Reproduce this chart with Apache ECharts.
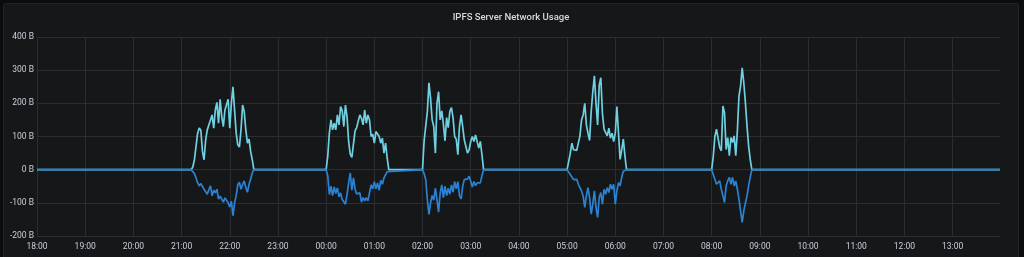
<!DOCTYPE html>
<html><head><meta charset="utf-8">
<script src="https://cdn.jsdelivr.net/npm/echarts@6/dist/echarts.min.js"></script>
<style>html,body{margin:0;padding:0;background:#0b0c0e;}#c{width:1024px;height:257px;}</style>
</head><body><div id="c"></div><script>
const chartTitle = 'IPFS Server Network Usage';
const axisStart = '18:00';
const axisSpanMinutes = 1199;
const yMin = -200, yMax = 400, yStep = 100;
const unitSuffix = ' B';
const stepMinutes = 2;
const burstStarts = ['21:12', '00:00', '02:00', '05:00', '08:00'];

const upper1 = [0,8,30,70,110,126,118,55,30,90,120,125,150,165,125,180,203,140,212,160,130,180,175,212,125,200,250,180,110,75,68,120,195,175,120,80,92,55,30,0];
const lower1 = [0,-5,-12,-25,-40,-49,-42,-38,-59,-60,-74,-60,-49,-79,-62,-70,-59,-89,-80,-74,-98,-85,-79,-100,-113,-95,-139,-100,-79,-45,-38,-59,-45,-34,-55,-68,-44,-29,-10,0];
const upper2 = [0,41,110,150,120,140,120,165,135,190,178,130,195,160,85,47,37,77,117,127,147,165,155,135,180,140,165,150,100,107,80,115,120,100,80,95,50,80,35,0];
const lower2 = [0,-18,-75,-50,-78,-52,-72,-55,-82,-70,-90,-97,-104,-75,-40,-10,-62,-25,-59,-73,-79,-70,-98,-84,-94,-84,-94,-70,-46,-58,-36,-58,-40,-62,-32,-44,-25,-20,-6,0];
const upper3 = [0,87,82,175,262,215,150,130,50,200,235,150,177,137,87,157,127,175,187,157,100,92,45,130,165,130,90,70,50,60,85,100,85,105,102,65,85,45,0];
const lower3 = [0,-12,-30,-90,-135,-100,-78,-92,-56,-90,-128,-70,-46,-84,-50,-78,-56,-74,-46,-68,-36,-58,-36,-78,-88,-50,-30,-24,-28,-20,-35,-52,-36,-48,-40,-44,-40,-18,0];
const upper4 = [0,25,50,80,60,58,58,52,102,150,165,200,135,110,88,175,235,283,200,135,255,277,170,122,112,102,125,95,110,85,110,190,110,31,60,92,42,0];
const lower4 = [0,-8,-14,-22,-30,-34,-29,-44,-39,-64,-80,-114,-79,-54,-84,-134,-104,-64,-114,-144,-84,-69,-104,-59,-74,-54,-69,-44,-59,-44,-104,-64,-39,-49,-23,-5,-2,0];
const upper5 = [0,40,100,122,117,67,57,192,172,61,97,42,97,82,102,42,117,222,252,307,262,202,132,72,31,0];
const lower5 = [0,-15,-29,-44,-39,-34,-59,-79,-99,-49,-34,-23,-44,-23,-49,-34,-59,-89,-124,-159,-124,-129,-79,-49,-23,0];

const upperBursts = [upper1, upper2, upper3, upper4, upper5];
const lowerBursts = [lower1, lower2, lower3, lower4, lower5];

function hm(s) { const p = s.split(':').map(Number); return p[0] * 60 + p[1]; }
const startMin = hm(axisStart);
function toOffset(s) { return (hm(s) - startMin + 1440) % 1440; }
function build(bursts) {
  const pts = [[0, 0]];
  bursts.forEach((vals, i) => {
    const t0 = toOffset(burstStarts[i]);
    vals.forEach((v, j) => pts.push([t0 + j * stepMinutes, v]));
  });
  pts.push([axisSpanMinutes, 0]);
  return pts;
}
function fmtTime(v) {
  const m = (startMin + v) % 1440;
  const h = Math.floor(m / 60), mm = m % 60;
  return String(h).padStart(2, '0') + ':' + String(mm).padStart(2, '0');
}

const gridColor = '#2b2d31';
const labelColor = '#c7d0d9';
const hourLines = Math.floor(axisSpanMinutes / 60) + 1;
const xGridColors = Array(hourLines).fill(gridColor).concat(['rgba(0,0,0,0)']);
const chart = echarts.init(document.getElementById('c'), null, {renderer: 'canvas'});
chart.setOption({
  animation: false,
  backgroundColor: '#0b0c0e',
  graphic: [{
    type: 'rect', z: -10, silent: true,
    shape: {x: 3.5, y: 3.5, width: 1015, height: 260, r: 2},
    style: {fill: '#161719', stroke: '#202226', lineWidth: 1}
  }],
  title: {
    text: chartTitle, left: 506, top: 8, textAlign: 'center',
    textStyle: {color: '#d8d9da', fontSize: 9.5, fontWeight: 500, fontFamily: 'Roboto'}
  },
  grid: {left: 37, right: 24, top: 37, bottom: 21, containLabel: false},
  xAxis: {
    type: 'value', min: 0, max: axisSpanMinutes, interval: 60,
    axisLine: {show: false}, axisTick: {show: false},
    axisLabel: {color: labelColor, fontSize: 8.5, fontFamily: 'Roboto', margin: 6,
      formatter: fmtTime, showMaxLabel: false},
    splitLine: {show: true, showMaxLine: false, lineStyle: {color: xGridColors, width: 1}}
  },
  yAxis: {
    type: 'value', min: yMin, max: yMax, interval: yStep,
    axisLine: {show: false}, axisTick: {show: false},
    axisLabel: {color: labelColor, fontSize: 8.5, fontFamily: 'Roboto', margin: 3,
      formatter: v => v + unitSuffix},
    splitLine: {show: true, lineStyle: {color: gridColor, width: 1}}
  },
  series: [
    {type: 'line', data: build(upperBursts), showSymbol: false, symbol: 'none',
     lineStyle: {color: '#6ED0E0', width: 1.7}, itemStyle: {color: '#6ED0E0'}},
    {type: 'line', data: build(lowerBursts), showSymbol: false, symbol: 'none',
     lineStyle: {color: '#2a82d2', width: 1.7}, itemStyle: {color: '#2a82d2'}}
  ]
});
</script></body></html>
